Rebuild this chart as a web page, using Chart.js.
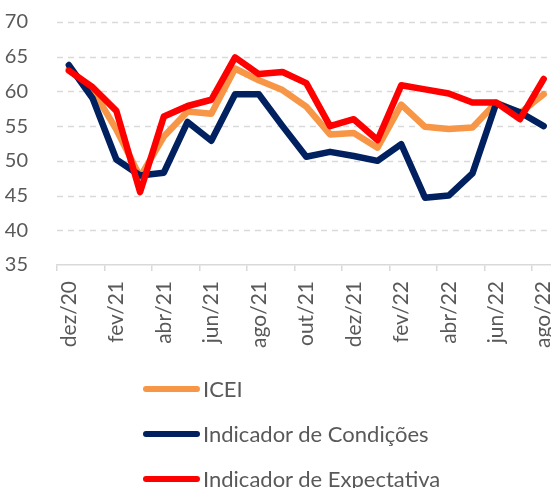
<!DOCTYPE html>
<html>
<head>
<meta charset="utf-8">
<script src="https://cdn.jsdelivr.net/npm/chart.js@4.4.0/dist/chart.umd.min.js"></script>
<style>
  html, body { margin: 0; padding: 0; background: #fff; overflow: hidden; }
  body { width: 551px; height: 488px; position: relative; }
  #wrap { position: absolute; left: 0; top: -11px; width: 579px; height: 381px; }
  #legend { position: absolute; left: 143px; top: 366px; font-family: Lato, sans-serif; font-size: 22px; color: #595959; }
  .item { height: 45px; display: flex; align-items: center; }
  .swatch { width: 57px; height: 6px; border-radius: 3px; margin-right: 3px; }
</style>
</head>
<body>
<div id="wrap"><canvas id="lineChart"></canvas></div>
<div id="legend"></div>
<script>
var labels = ["dez/20", "jan/21", "fev/21", "mar/21", "abr/21", "mai/21", "jun/21", "jul/21", "ago/21", "set/21", "out/21", "nov/21",
  "dez/21", "jan/22", "fev/22", "mar/22", "abr/22", "mai/22", "jun/22", "jul/22", "ago/22"];
var icei = [63.2, 60.3, 54.5, 47.7, 53.5, 57.1, 56.8, 63.3, 61.6, 60.2, 57.8, 53.8, 54.0, 51.9, 58.1, 54.9, 54.6, 54.8, 58.4, 56.9, 59.6];
var condicoes = [63.8, 59.0, 50.2, 47.9, 48.3, 55.6, 52.9, 59.6, 59.6, 55.0, 50.6, 51.3, 50.7, 50.0, 52.4, 44.7, 45.0, 48.2, 58.3, 57.0, 55.0];
var expectativa = [63.0, 60.6, 57.2, 45.5, 56.4, 57.9, 58.8, 64.9, 62.5, 62.8, 61.2, 55.0, 56.0, 53.0, 60.9, 60.3, 59.7, 58.4, 58.4, 56.0, 61.8];
var seriesNames = ["ICEI", "Indicador de Condições", "Indicador de Expectativa"];
var seriesColors = ["#F79646", "#002060", "#FF0000"];
var yTicks = { min: 35, max: 70, step: 5 };

var fontFam = "Lato, sans-serif";
var gray = "#595959";
var gridGray = "#d9d9d9";

function ds(i, values) {
  return {
    label: seriesNames[i],
    data: values,
    borderColor: seriesColors[i],
    backgroundColor: seriesColors[i],
    borderWidth: 6.5,
    pointRadius: 0,
    tension: 0,
    borderCapStyle: 'round',
    borderJoinStyle: 'round',
    order: 3 - i
  };
}

// dashed horizontal grid, drawn from the y scale's own ticks
var dashedGrid = {
  id: 'dashedGrid',
  beforeDatasetsDraw: function (chart) {
    var y = chart.scales.y, area = chart.chartArea, c = chart.ctx;
    c.save();
    c.strokeStyle = gridGray;
    c.lineWidth = 1.5;
    c.setLineDash([6, 5]);
    y.ticks.forEach(function (t) {
      if (t.value === yTicks.min) return;
      var py = Math.round(y.getPixelForValue(t.value)) + 0.5;
      c.beginPath();
      c.moveTo(area.left, py);
      c.lineTo(area.right, py);
      c.stroke();
    });
    c.restore();
  }
};

var ctxL = document.getElementById("lineChart").getContext('2d');
var myLineChart = new Chart(ctxL, {
  type: 'line',
  data: {
    labels: labels,
    datasets: [ds(0, icei), ds(1, condicoes), ds(2, expectativa)]
  },
  plugins: [dashedGrid],
  options: {
    responsive: true,
    maintainAspectRatio: false,
    animation: false,
    layout: { padding: { top: 11, right: 4, left: 0, bottom: 0 } },
    plugins: { legend: { display: false }, tooltip: { enabled: false } },
    scales: {
      x: {
        offset: true,
        afterFit: function (scale) { scale.height = 105; },
        border: { display: true, color: gridGray, width: 1.5 },
        grid: {
          offset: true,
          drawOnChartArea: false,
          drawTicks: true,
          tickLength: 6,
          lineWidth: 1.5,
          color: function (c) { return c.index % 2 === 0 ? gridGray : 'rgba(0,0,0,0)'; }
        },
        ticks: {
          autoSkip: false,
          minRotation: 90,
          maxRotation: 90,
          padding: 10,
          color: gray,
          font: { family: fontFam, size: 21 },
          callback: function (v, i) { return i % 2 === 0 ? labels[i] : ''; }
        }
      },
      y: {
        min: yTicks.min,
        max: yTicks.max,
        afterFit: function (scale) { scale.width = 57; },
        border: { display: false },
        grid: { display: false },
        ticks: {
          stepSize: yTicks.step,
          padding: 21,
          color: gray,
          font: { family: fontFam, size: 20 }
        }
      }
    }
  }
});

// legend stacked under the chart
var leg = document.getElementById("legend");
seriesNames.forEach(function (name, i) {
  var row = document.createElement("div");
  row.className = "item";
  var sw = document.createElement("span");
  sw.className = "swatch";
  sw.style.background = seriesColors[i];
  var tx = document.createElement("span");
  tx.textContent = name;
  row.appendChild(sw);
  row.appendChild(tx);
  leg.appendChild(row);
});
</script>
</body>
</html>
